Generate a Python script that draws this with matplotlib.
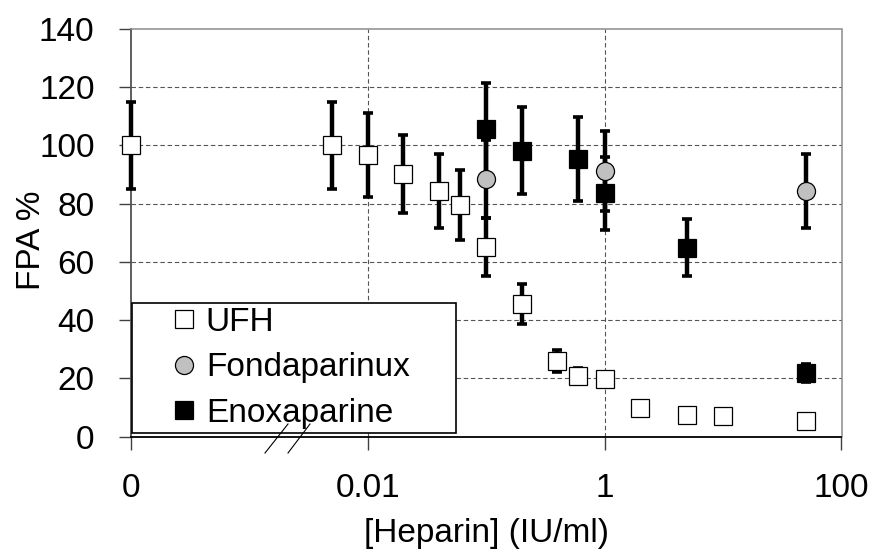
import numpy as np
import matplotlib.pyplot as plt
from matplotlib.lines import Line2D
from matplotlib.ticker import NullLocator

plt.rcParams['font.family'] = ['Liberation Sans', 'DejaVu Sans']

# zero concentration is drawn at this position on the log axis and labelled "0"
ZERO_POS = 1e-4

# UFH
ufh_conc = np.array([0, 0.005, 0.01, 0.02, 0.04, 0.06, 0.1, 0.2, 0.4, 0.6, 1, 2, 5, 10, 50])
ufh_fpa = np.array([100, 100, 96.7, 90.2, 84.3, 79.5, 65.1, 45.5, 26.0, 20.9, 19.8, 9.7, 7.4, 7.1, 5.3])
ufh_err = np.array([15, 15, 14.4, 13.5, 12.7, 11.9, 10.0, 6.8, 3.7, 2.5, 1.5, 1.0, 1.0, 1.0, 1.0])

# Fondaparinux
fonda_conc = np.array([0.1, 1, 50])
fonda_fpa = np.array([88.4, 91.3, 84.4])
fonda_err = np.array([13.4, 13.7, 12.7])

# Enoxaparine
enox_conc = np.array([0.1, 0.2, 0.6, 1, 5, 50])
enox_fpa = np.array([105.5, 98.2, 95.2, 83.5, 64.9, 21.9])
enox_err = np.array([16.0, 14.8, 14.4, 12.5, 9.8, 3.0])

series = [
    ("UFH", ufh_conc, ufh_fpa, ufh_err, dict(marker='s', mfc='white')),
    ("Fondaparinux", fonda_conc, fonda_fpa, fonda_err, dict(marker='o', mfc='#c0c0c0')),
    ("Enoxaparine", enox_conc, enox_fpa, enox_err, dict(marker='s', mfc='black')),
]

x_ticks = [ZERO_POS, 0.01, 1, 100]
x_ticklabels = ['0', '0.01', '1', '100']
y_ticks = np.arange(0, 141, 20)

W, H = 875, 554
fig = plt.figure(figsize=(W / 100, H / 100), dpi=100)
ax = fig.add_axes([130.7 / W, 1 - 436.6 / H, (841.5 - 130.7) / W, (436.6 - 28.8) / H])

ax.set_xscale('log')
ax.set_xlim(ZERO_POS, 100)
ax.set_ylim(0, 140)

# error bars first, then all markers on top
for name, conc, fpa, err, style in series:
    x = np.where(conc == 0, ZERO_POS, conc)
    eb = ax.errorbar(x, fpa, yerr=err, fmt='none', ecolor='black', elinewidth=3.2,
                     capsize=3.6, capthick=2.6, zorder=3)
    for art in eb.lines[1] + eb.lines[2]:
        art.set_clip_on(False)
for name, conc, fpa, err, style in series:
    x = np.where(conc == 0, ZERO_POS, conc)
    ax.plot(x, fpa, ls='none', ms=13, mec='black', mew=0.9, zorder=4,
            label=name, clip_on=False, **style)

# axes, ticks and grid
ax.set_xticks(x_ticks)
ax.set_xticklabels(x_ticklabels)
ax.xaxis.set_minor_locator(NullLocator())
ax.set_yticks(y_ticks)
ax.tick_params(axis='both', direction='out', length=9, width=1, labelsize=24,
               pad=17, color='#404040')

ax.grid(True, color='#555555', lw=0.8, ls=(0, (4, 2.5)))
for gl in (ax.get_ygridlines()[0], ax.get_ygridlines()[-1],
           ax.get_xgridlines()[0], ax.get_xgridlines()[-1]):
    gl.set_visible(False)
ax.set_axisbelow(True)

ax.spines['left'].set_color('#505050')
ax.spines['left'].set_linewidth(1.3)
ax.spines['bottom'].set_color('black')
ax.spines['bottom'].set_linewidth(1.3)
for side in ('top', 'right'):
    ax.spines[side].set_color('#8c8c8c')
    ax.spines[side].set_linewidth(1.1)

ax.set_xlabel('[Heparin] (IU/ml)', fontsize=24)
ax.xaxis.set_label_coords(0.5, -0.2)
ax.set_ylabel('FPA %', fontsize=24)
ax.yaxis.set_label_coords(-0.118, 0.482)

# legend
leg_handles = [Line2D([], [], ls='none', ms=13, mec='black', mew=0.9, **s[4]) for s in series]
leg = ax.legend(leg_handles, [s[0] for s in series], loc='lower left',
                bbox_to_anchor=(0.0015, 0.009, 0.4563, 0.1), mode='expand',
                fontsize=24, frameon=True, fancybox=False, borderpad=0.12,
                labelspacing=0.44, handlelength=2.9, handletextpad=-0.8,
                borderaxespad=0, numpoints=1)
leg.get_frame().set_edgecolor('black')
leg.get_frame().set_linewidth(1.2)
leg.get_frame().set_alpha(1)
leg.set_zorder(6)

# axis break marks
for x0, x1 in [(265, 288), (288, 310)]:
    fig.add_artist(Line2D([x0 / W, x1 / W], [1 - 453 / H, 1 - 424 / H],
                          color='black', lw=0.8, zorder=10))

fig.savefig('out.png', dpi=100)
